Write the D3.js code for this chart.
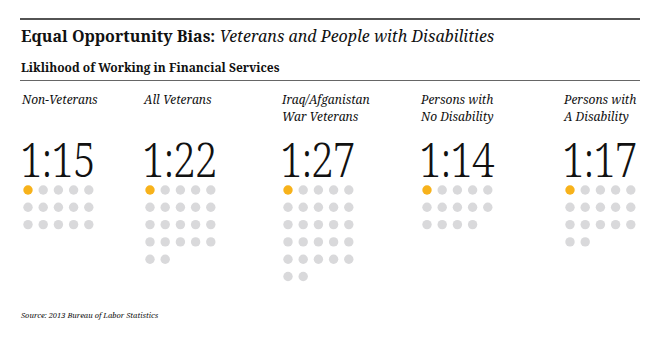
<!DOCTYPE html>
<html>
<head>
<meta charset="utf-8">
<script src="https://cdn.jsdelivr.net/npm/d3@7"></script>
<style>
  html, body { margin: 0; padding: 0; background: #fff; }
</style>
</head>
<body>
<div id="chart"></div>
<script>
// Odds of working in financial services, shown as 1:N with N dots (first one highlighted).
const groups   = ["nonvet", "allvet", "iraq", "nodis", "dis"];
const labels   = [["Non-Veterans"], ["All Veterans"], ["Iraq/Afganistan", "War Veterans"],
                  ["Persons with", "No Disability"], ["Persons with", "A Disability"]];
const ratios   = [15, 22, 27, 14, 17];

const W = 660, H = 340;
const SERIF = "'Noto Serif', 'DejaVu Serif', serif";

const svg = d3.select("#chart").append("svg")
  .attr("width", W).attr("height", H)
  .attr("font-family", SERIF);

// header rules + titles
svg.append("line").attr("x1", 20).attr("x2", 640).attr("y1", 19).attr("y2", 19)
  .attr("stroke", "#1a1a1a").attr("stroke-width", 1.5);
svg.append("line").attr("x1", 20).attr("x2", 640).attr("y1", 80.5).attr("y2", 80.5)
  .attr("stroke", "#666").attr("stroke-width", 1);

const title = svg.append("text").attr("x", 21).attr("y", 42)
  .attr("font-size", 16).attr("fill", "#111");
title.append("tspan").attr("font-weight", 700).text("Equal Opportunity Bias: ");
title.append("tspan").attr("font-style", "italic").text("Veterans and People with Disabilities");

svg.append("text").attr("x", 21).attr("y", 72)
  .attr("font-size", 12).attr("font-weight", 700).attr("fill", "#111")
  .text("Liklihood of Working in Financial Services");

// column positions
const x = d3.scaleOrdinal().domain(groups).range([22, 144, 282, 421, 564]);
const COLS = 5, R = 4.7, DX = 15.2, DY = 17.3;
const col = d3.scaleLinear().domain([0, COLS - 1]).range([0, DX * (COLS - 1)]);
const row = d3.scaleLinear().domain([0, 1]).range([190, 190 + DY]);

const g = svg.selectAll("g.group")
  .data(groups.map((k, i) => ({ key: k, lines: labels[i], n: ratios[i] })))
  .join("g").attr("class", "group")
  .attr("transform", d => `translate(${x(d.key)},0)`);

g.append("text")
  .attr("font-size", 12).attr("font-style", "italic").attr("fill", "#111")
  .selectAll("tspan").data(d => d.lines).join("tspan")
  .attr("x", 0).attr("y", (_, i) => 104 + i * 17)
  .text(t => t);

g.append("text")
  .attr("transform", "translate(-2,177) scale(0.86,1)")
  .attr("font-size", 47).attr("font-weight", 300).attr("fill", "#111")
  .attr("letter-spacing", -1)
  .text(d => "1:" + d.n);

g.selectAll("circle").data(d => d3.range(d.n)).join("circle")
  .attr("cx", i => 6 + col(i % COLS))
  .attr("cy", i => row(Math.floor(i / COLS)))
  .attr("r", R)
  .attr("fill", i => i === 0 ? "#f7b21b" : "#d9d9db");

svg.append("text").attr("x", 21).attr("y", 318)
  .attr("font-size", 7.5).attr("font-style", "italic").attr("fill", "#111")
  .text("Source: 2013 Bureau of Labor Statistics");
</script>
</body>
</html>
